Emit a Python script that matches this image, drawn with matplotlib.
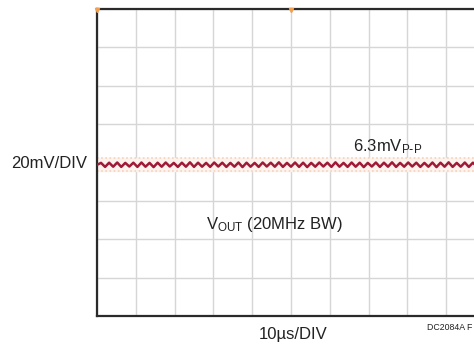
import matplotlib.pyplot as plt
import numpy as np

plt.rcParams['font.family'] = ['Liberation Sans Narrow', 'Liberation Sans', 'DejaVu Sans']
plt.rcParams['mathtext.fontset'] = 'custom'
plt.rcParams['mathtext.rm'] = 'Liberation Sans Narrow'
plt.rcParams['mathtext.default'] = 'regular'

# scope settings
time_per_div_us = 10
volt_per_div_mv = 20
n_xdiv = 10
n_ydiv = 8

# ripple trace, alternating troughs / peaks in mV
ripple_mv = [
    -1.2, -0.2, -2.3, -0.1, -2.2, 0.0, -2.3, -0.2, -2.1, -0.1,
    -2.3, 0.0, -2.2, -0.2, -2.4, -0.1, -2.2, 0.0, -2.1, -0.2,
    -2.3, -0.1, -2.2, 0.1, -2.3, -0.1, -2.2, -0.2, -2.3, 0.0,
    -2.1, -0.1, -2.3, -0.2, -2.2, 0.0, -2.4, -0.1, -2.2, -0.2,
    -2.3, 0.0, -2.1, -0.1, -2.2, 0.1, -2.3, -0.2, -2.2, 0.0,
    -2.3, -0.1, -2.4, -0.2, -2.2, 0.0, -2.1, -0.1, -2.3, 0.1,
    -2.2, -0.2, -2.3, 0.0, -2.2, -0.1, -2.4, -0.2, -2.1, 0.0,
    -2.3, -0.1, -2.2, 0.1, -2.3, -0.2, -2.2, 0.0, -2.1, -0.1,
    -2.3, -0.2, -2.2, 0.0, -2.4, -0.1, -2.2, 0.1, -2.3, -0.2,
    -2.2, 0.0, -2.3, -0.1, -2.1, 0.0, -2.2,
]
# persistence envelope (mV)
envelope_top_mv = 2.1
envelope_bottom_mv = -4.6

label_y = '20mV/DIV'
label_x = '10\u00b5s/DIV'
label_ripple = r'$\mathregular{6.3mV_{P\text{-}P}}$'
label_trace = r'$\mathregular{V_{OUT}}$ (20MHz BW)'
label_fig = 'DC2084A F'

t_end = time_per_div_us * n_xdiv
v_half = volt_per_div_mv * n_ydiv / 2
t = np.linspace(0, t_end, len(ripple_mv))

fig = plt.figure(figsize=(4.74, 3.46), dpi=100)
ax = fig.add_axes([97 / 474, 1 - 316 / 346, 388 / 474, 307 / 346])
ax.set_xlim(0, t_end)
ax.set_ylim(-v_half, v_half)

ax.set_xticks(np.arange(0, t_end + 1, time_per_div_us))
ax.set_yticks(np.arange(-v_half, v_half + 1, volt_per_div_mv))
ax.grid(True, color='#d6d6d6', linewidth=1.0)
ax.tick_params(length=0, labelbottom=False, labelleft=False)
for s in ax.spines.values():
    s.set_color('#2a2a2a')
    s.set_linewidth(1.6)

ax.fill_between([0, t_end], envelope_bottom_mv, envelope_top_mv,
                color='#fdf3ee', zorder=2)
ax.plot([0, t_end], [envelope_top_mv] * 2, color='#f4d2bb', lw=1.2,
        ls=(0, (1, 1.5)), zorder=2)
ax.plot([0, t_end], [envelope_bottom_mv] * 2, color='#f4d2bb', lw=1.2,
        ls=(0, (1, 1.5)), zorder=2)
ax.plot(t, ripple_mv, color='#9e1a36', lw=1.8, zorder=3)

# trigger marks
ax.plot([0, t_end / 2], [v_half - 0.6, v_half - 0.6], ls='none', marker='v',
        ms=3, color='#f0a050', clip_on=False, zorder=4)

fs = 12
fig.text(87 / 474, 1 - 163 / 346, label_y, ha='right', va='center', fontsize=fs,
         color='#222222')
fig.text(293 / 474, 1 - 335 / 346, label_x, ha='center', va='center', fontsize=fs,
         color='#222222')
fig.text(472 / 474, 1 - 328 / 346, label_fig, ha='right', va='center', fontsize=6.3,
         color='#222222')
fig.text(353 / 474, 1 - 147 / 346, label_ripple, ha='left', va='center', fontsize=fs,
         color='#222222')
fig.text(206 / 474, 1 - 225 / 346, label_trace, ha='left', va='center', fontsize=fs,
         color='#222222')

fig.savefig('out.png', dpi=100)
